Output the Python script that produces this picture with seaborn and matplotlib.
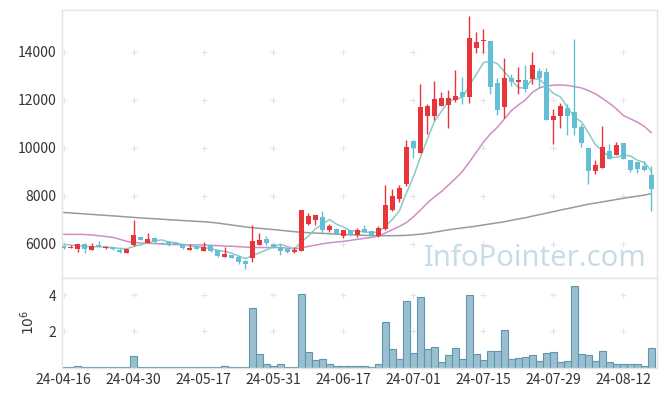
import numpy as np
import pandas as pd
import matplotlib
matplotlib.use("Agg")
import matplotlib.pyplot as plt
import seaborn as sns

# ---------------- data ----------------
opens = [5900, 5850, 5810, 5990, 5740, 5960, 5830, 5860, 5765, 5615,
         5960, 6290, 6055, 6250, 6060, 6080, 6060, 5990, 5760, 5910,
         5720, 5940, 5750, 5475, 5545, 5460, 5310, 5430, 5960, 6210,
         5990, 5875, 5810, 5655, 5720, 6840, 7010, 7120, 6580, 6635,
         6345, 6580, 6370, 6620, 6550, 6345, 6635, 7400, 7875, 8485,
         10265, 9780, 11310, 11340, 11755, 11780, 11990, 12335, 12100, 14135,
         14430, 14445, 12680, 11715, 12915, 12720, 12830, 12860, 13180, 13130,
         11160, 11340, 11640, 11480, 10845, 9990, 9035, 9175, 9850, 9715,
         10195, 9475, 9395, 9240, 8855]
highs = [5950, 5950, 6020, 6060, 6050, 6110, 5900, 5880, 5840, 5810,
         6990, 6300, 6455, 6300, 6080, 6120, 6080, 6000, 6000, 5930,
         6070, 5960, 5760, 5860, 5560, 5540, 5330, 6775, 6455, 6330,
         6000, 5990, 5830, 5890, 7420, 7270, 7220, 7365, 6850, 6650,
         6600, 6600, 6650, 6800, 6560, 6750, 8440, 8305, 8460, 10310,
         10310, 12650, 11800, 12775, 12300, 12400, 13230, 12940, 15480, 14810,
         14950, 14445, 12900, 13730, 13050, 13370, 13430, 13990, 13300, 13300,
         11600, 11850, 11800, 14510, 10970, 9990, 9500, 10915, 10140, 10240,
         10195, 9500, 9400, 9450, 9260]
lows = [5780, 5830, 5650, 5640, 5740, 5860, 5800, 5770, 5620, 5610,
        5930, 6160, 6040, 6060, 5990, 5930, 5990, 5800, 5750, 5790,
        5700, 5680, 5450, 5460, 5420, 5180, 4950, 5260, 5940, 5960,
        5850, 5560, 5620, 5640, 5700, 6790, 6790, 6455, 6500, 6410,
        6230, 6350, 6280, 6500, 6330, 6280, 6600, 7360, 7750, 8420,
        9570, 9780, 10580, 11150, 11750, 10830, 11900, 11800, 11850, 13940,
        13940, 12215, 11350, 11240, 12580, 12230, 12300, 12640, 12500, 11140,
        10170, 10830, 10540, 10510, 10030, 8485, 8900, 9175, 9550, 9715,
        9530, 9000, 8960, 9050, 7380]
closes = [5830, 5880, 5990, 5790, 5905, 5870, 5870, 5790, 5655, 5805,
          6370, 6180, 6210, 6080, 6010, 5960, 6010, 5820, 5820, 5800,
          5875, 5700, 5500, 5600, 5430, 5255, 5170, 6140, 6180, 6040,
          5870, 5720, 5650, 5765, 7400, 7160, 7200, 6580, 6745, 6425,
          6580, 6370, 6580, 6510, 6345, 6660, 7615, 7990, 8330, 10030,
          9990, 11715, 11755, 12030, 12075, 12085, 12165, 12100, 14570, 14385,
          14450, 12515, 11550, 12900, 12720, 12800, 12450, 13450, 12880, 11160,
          11340, 11740, 11310, 10815, 10195, 9035, 9270, 10030, 9550, 10100,
          9550, 9065, 9135, 9090, 8305]
ma_short = [5990, 5960, 5930, 5900, 5880, 5887, 5885, 5845, 5818, 5798,
            5898, 5960, 6044, 6129, 6170, 6088, 6054, 5976, 5924, 5882,
            5865, 5803, 5739, 5695, 5621, 5497, 5391, 5519, 5635, 5757,
            5880, 5990, 5892, 5809, 6081, 6339, 6635, 6821, 7017, 6822,
            6706, 6540, 6540, 6493, 6477, 6493, 6742, 7024, 7388, 8125,
            8791, 9611, 10364, 11104, 11513, 11932, 12022, 12091, 12599, 13061,
            13534, 13604, 13494, 13160, 12827, 12497, 12484, 12864, 12860, 12548,
            12256, 12114, 11686, 11273, 11080, 10619, 10125, 9869, 9616, 9597,
            9700, 9659, 9480, 9388, 9029]
ma_mid = [6400, 6400, 6400, 6395, 6375, 6345, 6310, 6275, 6200, 6110,
          6060, 6045, 6030, 6015, 6000, 5985, 5975, 5970, 5965, 5960,
          5955, 5945, 5930, 5915, 5905, 5890, 5870, 5860, 5850, 5855,
          5855, 5850, 5825, 5800, 5840, 5900, 5950, 6010, 6050, 6080,
          6110, 6150, 6195, 6235, 6275, 6330, 6460, 6600, 6730, 6890,
          7130, 7410, 7710, 7960, 8180, 8450, 8720, 9020, 9410, 9820,
          10235, 10580, 10855, 11200, 11550, 11780, 11990, 12305, 12490, 12570,
          12600, 12610, 12590, 12540, 12490, 12375, 12240, 12055, 11850, 11615,
          11340, 11200, 11065, 10885, 10625]
ma_long = [7310, 7290, 7270, 7250, 7230, 7210, 7190, 7170, 7150, 7125,
           7105, 7085, 7065, 7050, 7030, 7010, 6995, 6975, 6960, 6940,
           6925, 6900, 6870, 6830, 6790, 6750, 6710, 6675, 6650, 6625,
           6600, 6570, 6540, 6510, 6485, 6470, 6455, 6440, 6425, 6410,
           6400, 6385, 6375, 6360, 6350, 6345, 6345, 6345, 6350, 6360,
           6380, 6410, 6445, 6490, 6540, 6590, 6630, 6670, 6705, 6745,
           6790, 6835, 6880, 6925, 6985, 7040, 7090, 7160, 7220, 7280,
           7345, 7410, 7470, 7530, 7590, 7655, 7700, 7750, 7800, 7850,
           7900, 7945, 7990, 8030, 8100]
volume_m = [0.01, 0.01, 0.06, 0.01, 0.01, 0.01, 0.01, 0.01, 0.01, 0.04,
            0.66, 0.05, 0.05, 0.05, 0.05, 0.01, 0.01, 0.05, 0.01, 0.05,
            0.01, 0.05, 0.05, 0.10, 0.05, 0.05, 0.05, 3.26, 0.77, 0.22,
            0.11, 0.17, 0.05, 0.05, 4.04, 0.88, 0.40, 0.50, 0.17, 0.09,
            0.09, 0.09, 0.09, 0.09, 0.05, 0.17, 2.54, 1.00, 0.50, 3.65,
            0.83, 3.87, 1.00, 1.16, 0.33, 0.72, 1.10, 0.50, 3.98, 0.77,
            0.44, 0.94, 0.94, 2.10, 0.50, 0.55, 0.61, 0.72, 0.39, 0.83,
            0.88, 0.33, 0.39, 4.48, 0.77, 0.72, 0.39, 0.94, 0.28, 0.22,
            0.22, 0.22, 0.17, 0.11, 1.10]
tick_labels = ["24-04-16", "24-04-30", "24-05-17", "24-05-31", "24-06-17",
               "24-07-01", "24-07-15", "24-07-29", "24-08-12"]
price_ticks = [6000, 8000, 10000, 12000, 14000]
volume_ticks = [2, 4]

# ---------------- styling ----------------
sns.set_theme(style="white")
plt.rcParams["font.family"] = ["Noto Sans CJK KR", "DejaVu Sans"]
plt.rcParams["mathtext.fontset"] = "dejavusans"

RED = "#E9343A"
BLUE = "#64BED6"
TEAL = "#8ACBC3"
PINK = "#CD8FC6"
GRAY = "#9A9A9A"
FRAME = "#E4E4E4"
TXT = "#333333"

n = len(closes)
idx = np.arange(n)
df = pd.DataFrame({"i": idx, "open": opens, "high": highs, "low": lows,
                   "close": closes, "ma5": ma_short, "ma20": ma_mid,
                   "ma120": ma_long, "vol": volume_m})
df["up"] = df["close"] >= df["open"]
df["color"] = np.where(df["up"], RED, BLUE)

fig = plt.figure(figsize=(6.65, 3.96), dpi=100)
ax = fig.add_axes([0.0927, 0.2992, 0.8953, 0.6743])
axv = fig.add_axes([0.0927, 0.0718, 0.8953, 0.2274], sharex=ax)

xlo, xhi = -0.27, 84.8
tick_pos = list(range(0, n, 10))[:len(tick_labels)]

# grid crosses
for a, yt in ((ax, price_ticks), (axv, volume_ticks)):
    gx, gy = np.meshgrid(tick_pos, yt)
    a.scatter(gx.ravel(), gy.ravel(), marker="+", s=20, color="#E4E4E4",
              linewidths=0.8, zorder=0)

# moving averages
sns.lineplot(data=df, x="i", y="ma120", ax=ax, color=GRAY, lw=1.1, zorder=2)
sns.lineplot(data=df, x="i", y="ma20", ax=ax, color=PINK, lw=1.1, zorder=2)
sns.lineplot(data=df, x="i", y="ma5", ax=ax, color=TEAL, lw=1.1, zorder=2)

# candles
ax.vlines(df["i"], df["low"], df["high"], colors=df["color"], lw=1.0, zorder=3)
body_lo = np.minimum(df["open"], df["close"])
body_h = np.maximum(np.abs(df["close"] - df["open"]), 45)
ax.bar(df["i"], body_h, bottom=body_lo, width=0.68, color=df["color"],
       linewidth=0, zorder=4)

# watermark
ax.text(0.983, 0.044, "InfoPointer.com", transform=ax.transAxes,
        ha="right", va="baseline", fontsize=21, color="#C9DBE5",
        family=["Noto Sans", "DejaVu Sans"], zorder=5)

ax.set_xlim(xlo, xhi)
ax.set_ylim(4606, 15706)
ax.set_yticks(price_ticks)
ax.set_yticklabels([str(v) for v in price_ticks])
ax.set_xlabel("")
ax.set_ylabel("")
ax.tick_params(axis="x", labelbottom=False)

# volume
sns.barplot(data=df, x="i", y="vol", ax=axv, native_scale=True, width=1.0,
            color="#9AC0D0", edgecolor="#5F96AF", linewidth=0.8,
            saturation=1, zorder=2)
axv.set_ylim(0, 4.97)
axv.set_yticks(volume_ticks)
axv.set_yticklabels([str(v) for v in volume_ticks])
axv.set_xticks(tick_pos)
axv.set_xticklabels(tick_labels)
axv.set_xlim(xlo, xhi)
axv.set_xlabel("")
axv.set_ylabel(r"$10^6$", color=TXT, fontsize=10, labelpad=8)

for a in (ax, axv):
    for s in a.spines.values():
        s.set_color(FRAME)
        s.set_linewidth(1.0)
    a.tick_params(axis="both", length=2.5, width=0.8, color="#DDDDDD",
                  labelcolor=TXT, labelsize=10, pad=3)
    a.tick_params(axis="x", direction="inout")
    a.tick_params(axis="y", length=0, pad=4)

fig.savefig("out.png", dpi=100)
